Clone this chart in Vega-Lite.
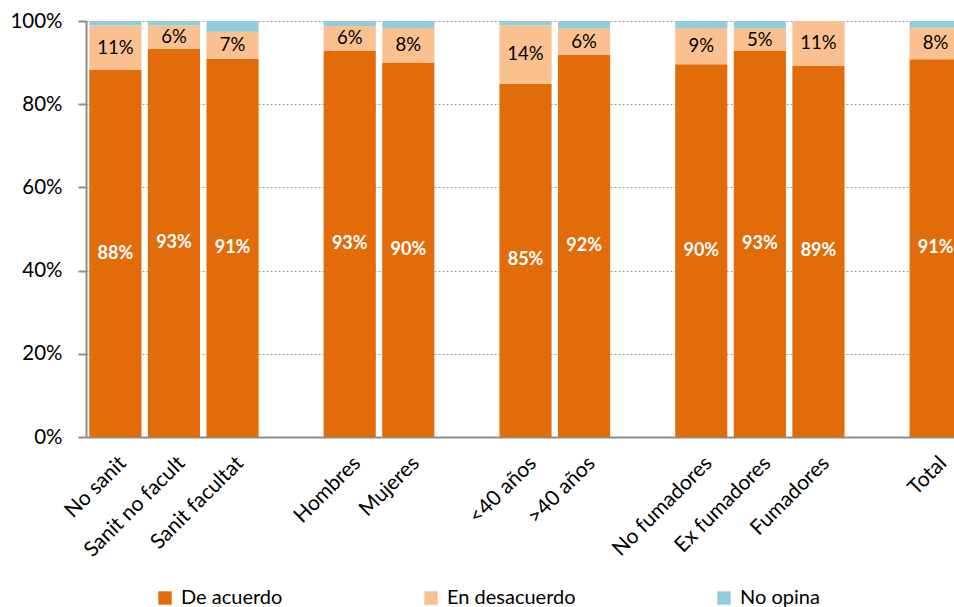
{
  "$schema": "https://vega.github.io/schema/vega-lite/v6.json",
  "width": 868,
  "height": 416,
  "autosize": {"type": "none"},
  "padding": {"left": 86, "top": 21, "right": 0, "bottom": 170},
  "background": "white",
  "config": {
    "font": "Lato",
    "view": {"stroke": null}
  },
  "data": {
    "values": [
      {"cat": "No sanit", "resp": "De acuerdo", "ord": 1, "v": 0.882},
      {"cat": "No sanit", "resp": "En desacuerdo", "ord": 2, "v": 0.107},
      {"cat": "No sanit", "resp": "No opina", "ord": 3, "v": 0.011},
      {"cat": "Sanit no facult", "resp": "De acuerdo", "ord": 1, "v": 0.933},
      {"cat": "Sanit no facult", "resp": "En desacuerdo", "ord": 2, "v": 0.056},
      {"cat": "Sanit no facult", "resp": "No opina", "ord": 3, "v": 0.011},
      {"cat": "Sanit facultat", "resp": "De acuerdo", "ord": 1, "v": 0.909},
      {"cat": "Sanit facultat", "resp": "En desacuerdo", "ord": 2, "v": 0.065},
      {"cat": "Sanit facultat", "resp": "No opina", "ord": 3, "v": 0.026},
      {"cat": "Hombres", "resp": "De acuerdo", "ord": 1, "v": 0.928},
      {"cat": "Hombres", "resp": "En desacuerdo", "ord": 2, "v": 0.06},
      {"cat": "Hombres", "resp": "No opina", "ord": 3, "v": 0.012},
      {"cat": "Mujeres", "resp": "De acuerdo", "ord": 1, "v": 0.9},
      {"cat": "Mujeres", "resp": "En desacuerdo", "ord": 2, "v": 0.083},
      {"cat": "Mujeres", "resp": "No opina", "ord": 3, "v": 0.017},
      {"cat": "<40 años", "resp": "De acuerdo", "ord": 1, "v": 0.849},
      {"cat": "<40 años", "resp": "En desacuerdo", "ord": 2, "v": 0.141},
      {"cat": "<40 años", "resp": "No opina", "ord": 3, "v": 0.01},
      {"cat": ">40 años", "resp": "De acuerdo", "ord": 1, "v": 0.918},
      {"cat": ">40 años", "resp": "En desacuerdo", "ord": 2, "v": 0.064},
      {"cat": ">40 años", "resp": "No opina", "ord": 3, "v": 0.018},
      {"cat": "No fumadores", "resp": "De acuerdo", "ord": 1, "v": 0.896},
      {"cat": "No fumadores", "resp": "En desacuerdo", "ord": 2, "v": 0.087},
      {"cat": "No fumadores", "resp": "No opina", "ord": 3, "v": 0.017},
      {"cat": "Ex fumadores", "resp": "De acuerdo", "ord": 1, "v": 0.928},
      {"cat": "Ex fumadores", "resp": "En desacuerdo", "ord": 2, "v": 0.054},
      {"cat": "Ex fumadores", "resp": "No opina", "ord": 3, "v": 0.018},
      {"cat": "Fumadores", "resp": "De acuerdo", "ord": 1, "v": 0.892},
      {"cat": "Fumadores", "resp": "En desacuerdo", "ord": 2, "v": 0.108},
      {"cat": "Fumadores", "resp": "No opina", "ord": 3, "v": 0.0},
      {"cat": "Total", "resp": "De acuerdo", "ord": 1, "v": 0.908},
      {"cat": "Total", "resp": "En desacuerdo", "ord": 2, "v": 0.076},
      {"cat": "Total", "resp": "No opina", "ord": 3, "v": 0.016}
    ]
  },
  "encoding": {
    "x": {
      "field": "cat",
      "type": "nominal",
      "sort": null,
      "scale": {
        "domain": ["No sanit", "Sanit no facult", "Sanit facultat", " ", "Hombres", "Mujeres", "  ", "<40 años", ">40 años", "   ", "No fumadores", "Ex fumadores", "Fumadores", "    ", "Total"],
        "range": [0, 879],
        "paddingInner": 0.11,
        "paddingOuter": 0.056
      },
      "axis": {
        "title": null,
        "labelAngle": -45,
        "labelFontSize": 21,
        "labelColor": "#000000",
        "labelPadding": 15,
        "ticks": false,
        "domainColor": "#8c8c8c",
        "domainWidth": 2,
        "grid": false
      }
    }
  },
  "layer": [
    {
      "mark": {"type": "bar", "clip": true},
      "encoding": {
        "y": {
          "field": "v",
          "type": "quantitative",
          "stack": "zero",
          "scale": {"domain": [0, 1], "nice": false},
          "axis": {
            "title": null,
            "format": ".0%",
            "values": [0, 0.2, 0.4, 0.6, 0.8, 1],
            "labelFontSize": 20.5,
            "labelColor": "#000000",
            "labelPadding": 16,
            "tickSize": 8,
            "tickWidth": 2,
            "tickColor": "#8c8c8c",
            "domainColor": "#8c8c8c",
            "domainWidth": 2,
            "grid": true,
            "gridColor": "#9a9a9a",
            "gridDash": [2, 2],
            "gridWidth": 1.2
          }
        },
        "color": {
          "field": "resp",
          "type": "nominal",
          "scale": {
            "domain": ["De acuerdo", "En desacuerdo", "No opina"],
            "range": ["#E36C0A", "#FAC090", "#92CDDC"]
          },
          "legend": {
            "title": null,
            "orient": "none",
            "legendX": 69,
            "legendY": 567,
            "direction": "horizontal",
            "columnPadding": 138,
            "symbolType": "square",
            "symbolSize": 180,
            "symbolStrokeWidth": 0,
            "labelFontSize": 20,
            "labelColor": "#000000",
            "labelOffset": 6,
            "padding": 0
          }
        },
        "order": {"field": "ord", "type": "quantitative"}
      }
    },
    {
      "mark": {"type": "text", "fontSize": 18, "fontWeight": "bold", "color": "white"},
      "encoding": {
        "y": {"field": "v", "type": "quantitative", "stack": "zero", "bandPosition": 0.5},
        "order": {"field": "ord", "type": "quantitative"},
        "text": {
          "field": "v",
          "type": "quantitative",
          "format": ".0%",
          "condition": {"test": "datum.resp != 'De acuerdo'", "value": ""}
        }
      }
    },
    {
      "mark": {"type": "text", "fontSize": 18.5, "color": "#000000"},
      "encoding": {
        "y": {"field": "v", "type": "quantitative", "stack": "zero", "bandPosition": 0.5},
        "order": {"field": "ord", "type": "quantitative"},
        "text": {
          "field": "v",
          "type": "quantitative",
          "format": ".0%",
          "condition": {"test": "datum.resp != 'En desacuerdo'", "value": ""}
        }
      }
    }
  ]
}
